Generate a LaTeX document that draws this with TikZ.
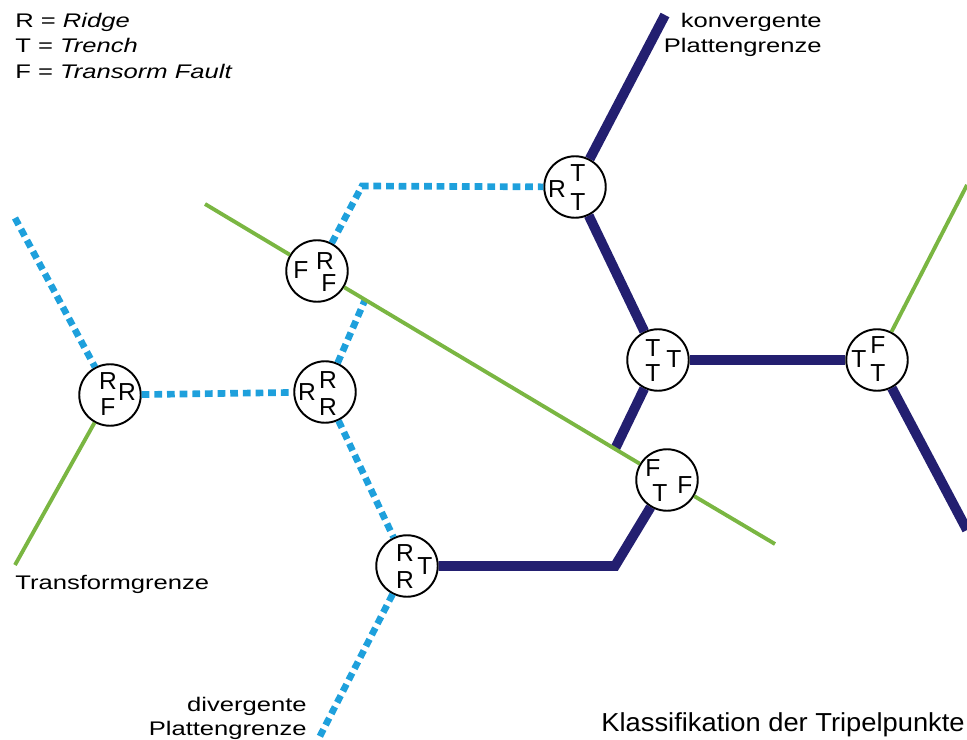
\documentclass[tikz,border=0pt]{standalone}
\usepackage{fontspec}
\setmainfont{Liberation Sans}[FakeStretch=1.3]
\newfontfamily\letterfont{Liberation Sans}
\newfontfamily\titlefont{Liberation Sans}[FakeStretch=1.05]
\usepackage{tikz}
\usetikzlibrary{arrows.meta}

\definecolor{ridgeblue}{RGB}{30,160,220}
\definecolor{trenchnavy}{RGB}{35,31,112}
\definecolor{faultgreen}{RGB}{122,182,66}

\tikzset
{
  junction/.style={draw=black,line width=1.1pt,fill=white,circle,minimum size=35pt,inner sep=0pt},
  plate/.style={font=\letterfont\fontsize{14}{15}\selectfont,inner sep=0pt},
  ridge/.style={draw=ridgeblue,line width=3.8pt,dash pattern=on 4.4pt off 2.8pt},
  trench/.style={draw=trenchnavy,line width=5.6pt},
  fault/.style={draw=faultgreen,line width=2.2pt},
  caption/.style={font=\fontsize{11.2}{12}\selectfont,inner sep=0pt}
}

\begin{document}
\begin{tikzpicture}[x=0.02cm,y=-0.02cm]
        \useasboundingbox (0,0) rectangle (967,740);

        % Triple junctions
        \node[junction] (A) at (110,395) {};
        \node[junction] (B) at (317,271) {};
        \node[junction] (C) at (325,392) {};
        \node[junction] (D) at (575,187) {};
        \node[junction] (E) at (658,360) {};
        \node[junction] (G) at (877,360) {};
        \node[junction] (H) at (667,480) {};
        \node[junction] (I) at (407,566) {};

        % Free ends and bends of the boundaries
        \coordinate (ridgeNW) at (15,218);
        \coordinate (ridgeBend) at (362,186);
        \coordinate (ridgeCut) at (365,300);
        \coordinate (ridgeS) at (318,740);
        \coordinate (trenchN) at (665,15);
        \coordinate (trenchBend) at (615,566);
        \coordinate (trenchCut) at (615,449);
        \coordinate (trenchSE) at (967,530);
        \coordinate (faultNW) at (205,204);
        \coordinate (faultSE) at (775,544);
        \coordinate (faultSW) at (15,565);
        \coordinate (faultNE) at (967,185);

        % Divergent boundaries
        \draw[ridge] (ridgeNW) -- (A);
        \draw[ridge] (A) -- (C);
        \draw[ridge] (B) -- (ridgeBend) -- (D);
        \draw[ridge] (C) -- (ridgeCut);
        \draw[ridge] (C) -- (I);
        \draw[ridge] (I) -- (ridgeS);

        % Convergent boundaries
        \draw[trench] (I) -- (trenchBend) -- (H);
        \draw[trench] (D) -- (trenchN);
        \draw[trench] (D) -- (E);
        \draw[trench] (E) -- (G);
        \draw[trench] (E) -- (trenchCut);
        \draw[trench] (G) -- (trenchSE);

        % Transform boundaries
        \draw[fault] (faultNW) -- (B);
        \draw[fault] (B) -- (H);
        \draw[fault] (H) -- (faultSE);
        \draw[fault] (A) -- (faultSW);
        \draw[fault] (G) -- (faultNE);

        % Letters inside the junctions
        \node[plate] (A-1) at ([shift={(-2,-14)}]A) {R};
        \node[plate] (A-2) at ([shift={(17,-3)}]A) {R};
        \node[plate] (A-3) at ([shift={(-2,12)}]A) {F};

        \node[plate] (B-1) at ([shift={(-16,-1)}]B) {F};
        \node[plate] (B-2) at ([shift={(8,-10)}]B) {R};
        \node[plate] (B-3) at ([shift={(12,12)}]B) {F};

        \node[plate] (C-1) at ([shift={(-18,0)}]C) {R};
        \node[plate] (C-2) at ([shift={(3,-12)}]C) {R};
        \node[plate] (C-3) at ([shift={(3,15)}]C) {R};

        \node[plate] (D-1) at ([shift={(-18,2)}]D) {R};
        \node[plate] (D-2) at ([shift={(3,-14)}]D) {T};
        \node[plate] (D-3) at ([shift={(3,15)}]D) {T};

        \node[plate] (E-1) at ([shift={(-5,-12)}]E) {T};
        \node[plate] (E-2) at ([shift={(-5,13)}]E) {T};
        \node[plate] (E-3) at ([shift={(16,-1)}]E) {T};

        \node[plate] (G-1) at ([shift={(-18,-1)}]G) {T};
        \node[plate] (G-2) at ([shift={(1,-15)}]G) {F};
        \node[plate] (G-3) at ([shift={(1,13)}]G) {T};

        \node[plate] (H-1) at ([shift={(-14,-12)}]H) {F};
        \node[plate] (H-2) at ([shift={(-7,13)}]H) {T};
        \node[plate] (H-3) at ([shift={(18,5)}]H) {F};

        \node[plate] (I-1) at ([shift={(-2,-13)}]I) {R};
        \node[plate] (I-2) at ([shift={(-2,14)}]I) {R};
        \node[plate] (I-3) at ([shift={(18,0)}]I) {T};

        % Legend
        \node[caption,anchor=base west] (keyR) at (15,28) {R = \textit{Ridge}};
        \node[caption,anchor=base west] (keyT) at (15,53) {T = \textit{Trench}};
        \node[caption,anchor=base west] (keyF) at (15,79) {F = \textit{Transorm Fault}};

        % Boundary names
        \node[caption,anchor=base east] (konv1) at (822,28) {konvergente};
        \node[caption,anchor=base east] (konv2) at (822,53) {Plattengrenze};
        \node[caption,anchor=base west] (trans) at (15,589) {Transformgrenze};
        \node[caption,anchor=base east] (div1) at (307,711) {divergente};
        \node[caption,anchor=base east] (div2) at (307,735) {Plattengrenze};

        % Title
        \node[caption,font=\titlefont\fontsize{14.8}{16}\selectfont,anchor=base east] (title) at (965,731) {Klassifikation der Tripelpunkte};
    \end{tikzpicture}
\end{document}
